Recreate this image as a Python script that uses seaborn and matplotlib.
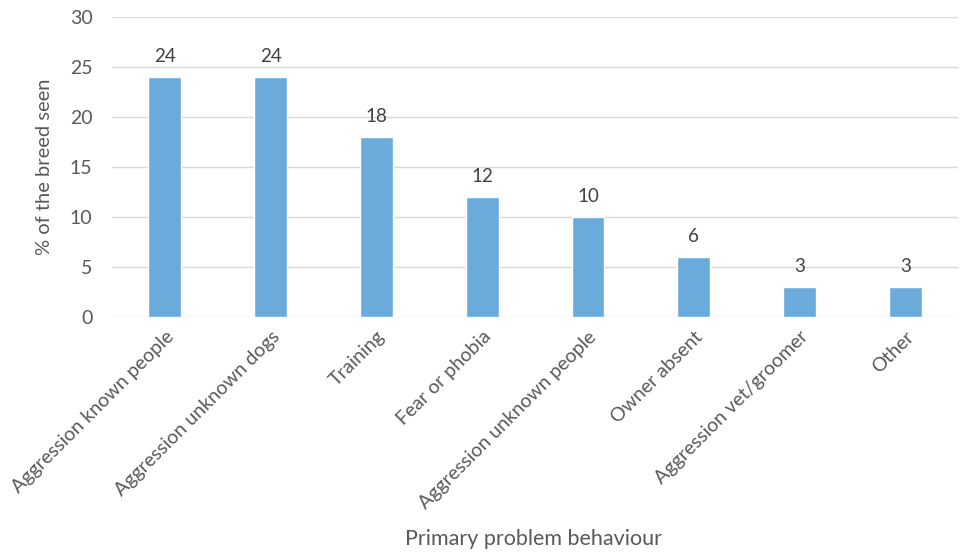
import pandas as pd
import seaborn as sns
import matplotlib.pyplot as plt

# Data
categories = ["Aggression known people", "Aggression unknown dogs", "Training",
              "Fear or phobia", "Aggression unknown people", "Owner absent",
              "Aggression vet/groomer", "Other"]
percent_seen = [24, 24, 18, 12, 10, 6, 3, 3]

df = pd.DataFrame({"behaviour": categories, "percent": percent_seen})

sns.set_style("white")
plt.rcParams["font.family"] = ["Lato", "DejaVu Sans"]

grey = "#595959"
fig = plt.figure(figsize=(9.62, 5.52), dpi=100)
ax = fig.add_axes([0.1164, 0.4257, 0.8796, 0.5435])

sns.barplot(data=df, x="behaviour", y="percent", color="#6AABDB",
            width=0.31, saturation=1, ax=ax, zorder=3)

for i, v in enumerate(percent_seen):
    ax.annotate(str(v), (i, v), xytext=(0, 9), textcoords="offset points",
                ha="center", va="bottom", fontsize=13.5, color="#404040")

ax.set_ylim(0, 30)
ax.set_yticks(range(0, 31, 5))
ax.yaxis.grid(True, color="#D9D9D9", linewidth=1, zorder=0)
ax.set_axisbelow(True)
for s in ax.spines.values():
    s.set_visible(False)

ax.tick_params(axis="both", length=0, labelsize=14, labelcolor=grey)
ax.tick_params(axis="y", pad=14)
ax.set_xticks(range(len(categories)))
ax.set_xticklabels(categories, rotation=45, ha="right", rotation_mode="anchor")
ax.tick_params(axis="x", pad=8)

ax.set_xlabel("Primary problem behaviour", fontsize=15.5, color=grey)
ax.set_ylabel("% of the breed seen", fontsize=14.5, color=grey, labelpad=12)
ax.xaxis.set_label_coords(0.498, -0.705)

fig.savefig("out.png", dpi=100)
